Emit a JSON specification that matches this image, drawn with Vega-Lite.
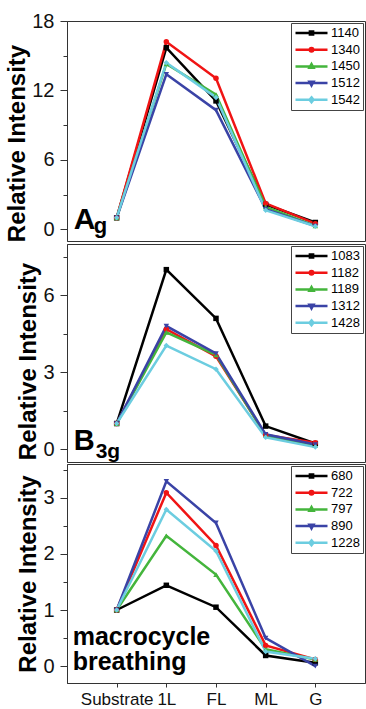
{
  "$schema": "https://vega.github.io/schema/vega-lite/v6.json",
  "padding": {"left": 5, "top": 10, "right": 0, "bottom": 0},
  "spacing": 0,
  "config": {
    "font": "Liberation Sans",
    "view": {"stroke": "#333", "strokeWidth": 1},
    "axis": {"domainColor": "#333", "tickColor": "#333", "labelColor": "#111", "titleColor": "#000", "grid": false, "labelFont": "Liberation Sans", "titleFont": "Liberation Sans"},
    "legend": {"labelFont": "Liberation Sans"}
  },
  "datasets": {
    "d": [
      {"panel": "Ag", "series": 1140, "stage": "Substrate", "value": 1},
      {"panel": "Ag", "series": 1140, "stage": "1L", "value": 15.7},
      {"panel": "Ag", "series": 1140, "stage": "FL", "value": 11.1},
      {"panel": "Ag", "series": 1140, "stage": "ML", "value": 2.15},
      {"panel": "Ag", "series": 1140, "stage": "G", "value": 0.6},
      {"panel": "Ag", "series": 1340, "stage": "Substrate", "value": 1},
      {"panel": "Ag", "series": 1340, "stage": "1L", "value": 16.2},
      {"panel": "Ag", "series": 1340, "stage": "FL", "value": 13.05},
      {"panel": "Ag", "series": 1340, "stage": "ML", "value": 2.25},
      {"panel": "Ag", "series": 1340, "stage": "G", "value": 0.5},
      {"panel": "Ag", "series": 1450, "stage": "Substrate", "value": 1},
      {"panel": "Ag", "series": 1450, "stage": "1L", "value": 14.3},
      {"panel": "Ag", "series": 1450, "stage": "FL", "value": 11.65},
      {"panel": "Ag", "series": 1450, "stage": "ML", "value": 1.95},
      {"panel": "Ag", "series": 1450, "stage": "G", "value": 0.3},
      {"panel": "Ag", "series": 1512, "stage": "Substrate", "value": 1},
      {"panel": "Ag", "series": 1512, "stage": "1L", "value": 13.4},
      {"panel": "Ag", "series": 1512, "stage": "FL", "value": 10.3},
      {"panel": "Ag", "series": 1512, "stage": "ML", "value": 1.75},
      {"panel": "Ag", "series": 1512, "stage": "G", "value": 0.28},
      {"panel": "Ag", "series": 1542, "stage": "Substrate", "value": 1},
      {"panel": "Ag", "series": 1542, "stage": "1L", "value": 14.4},
      {"panel": "Ag", "series": 1542, "stage": "FL", "value": 11.4},
      {"panel": "Ag", "series": 1542, "stage": "ML", "value": 1.65},
      {"panel": "Ag", "series": 1542, "stage": "G", "value": 0.27},
      {"panel": "B3g", "series": 1083, "stage": "Substrate", "value": 1},
      {"panel": "B3g", "series": 1083, "stage": "1L", "value": 7.0},
      {"panel": "B3g", "series": 1083, "stage": "FL", "value": 5.1},
      {"panel": "B3g", "series": 1083, "stage": "ML", "value": 0.9},
      {"panel": "B3g", "series": 1083, "stage": "G", "value": 0.22},
      {"panel": "B3g", "series": 1182, "stage": "Substrate", "value": 1},
      {"panel": "B3g", "series": 1182, "stage": "1L", "value": 4.68},
      {"panel": "B3g", "series": 1182, "stage": "FL", "value": 3.62},
      {"panel": "B3g", "series": 1182, "stage": "ML", "value": 0.55},
      {"panel": "B3g", "series": 1182, "stage": "G", "value": 0.25},
      {"panel": "B3g", "series": 1189, "stage": "Substrate", "value": 1},
      {"panel": "B3g", "series": 1189, "stage": "1L", "value": 4.55},
      {"panel": "B3g", "series": 1189, "stage": "FL", "value": 3.68},
      {"panel": "B3g", "series": 1189, "stage": "ML", "value": 0.53},
      {"panel": "B3g", "series": 1189, "stage": "G", "value": 0.15},
      {"panel": "B3g", "series": 1312, "stage": "Substrate", "value": 1},
      {"panel": "B3g", "series": 1312, "stage": "1L", "value": 4.8},
      {"panel": "B3g", "series": 1312, "stage": "FL", "value": 3.73},
      {"panel": "B3g", "series": 1312, "stage": "ML", "value": 0.58},
      {"panel": "B3g", "series": 1312, "stage": "G", "value": 0.18},
      {"panel": "B3g", "series": 1428, "stage": "Substrate", "value": 1},
      {"panel": "B3g", "series": 1428, "stage": "1L", "value": 4.04},
      {"panel": "B3g", "series": 1428, "stage": "FL", "value": 3.12},
      {"panel": "B3g", "series": 1428, "stage": "ML", "value": 0.46},
      {"panel": "B3g", "series": 1428, "stage": "G", "value": 0.08},
      {"panel": "mb", "series": 680, "stage": "Substrate", "value": 1},
      {"panel": "mb", "series": 680, "stage": "1L", "value": 1.44},
      {"panel": "mb", "series": 680, "stage": "FL", "value": 1.05},
      {"panel": "mb", "series": 680, "stage": "ML", "value": 0.19},
      {"panel": "mb", "series": 680, "stage": "G", "value": 0.06},
      {"panel": "mb", "series": 722, "stage": "Substrate", "value": 1},
      {"panel": "mb", "series": 722, "stage": "1L", "value": 3.09},
      {"panel": "mb", "series": 722, "stage": "FL", "value": 2.15},
      {"panel": "mb", "series": 722, "stage": "ML", "value": 0.37},
      {"panel": "mb", "series": 722, "stage": "G", "value": 0.12},
      {"panel": "mb", "series": 797, "stage": "Substrate", "value": 1},
      {"panel": "mb", "series": 797, "stage": "1L", "value": 2.32},
      {"panel": "mb", "series": 797, "stage": "FL", "value": 1.63},
      {"panel": "mb", "series": 797, "stage": "ML", "value": 0.3},
      {"panel": "mb", "series": 797, "stage": "G", "value": 0.12},
      {"panel": "mb", "series": 890, "stage": "Substrate", "value": 1},
      {"panel": "mb", "series": 890, "stage": "1L", "value": 3.29},
      {"panel": "mb", "series": 890, "stage": "FL", "value": 2.55},
      {"panel": "mb", "series": 890, "stage": "ML", "value": 0.5},
      {"panel": "mb", "series": 890, "stage": "G", "value": 0.0},
      {"panel": "mb", "series": 1228, "stage": "Substrate", "value": 1},
      {"panel": "mb", "series": 1228, "stage": "1L", "value": 2.79},
      {"panel": "mb", "series": 1228, "stage": "FL", "value": 2.05},
      {"panel": "mb", "series": 1228, "stage": "ML", "value": 0.26},
      {"panel": "mb", "series": 1228, "stage": "G", "value": 0.13}
    ],
    "notes": [
      {"panel": "Ag", "part": "main", "label": "A", "stage": "Substrate", "value": 0},
      {"panel": "Ag", "part": "sub", "label": "g", "stage": "Substrate", "value": 0},
      {"panel": "B3g", "part": "main", "label": "B", "stage": "Substrate", "value": 0},
      {"panel": "B3g", "part": "sub", "label": "3g", "stage": "Substrate", "value": 0},
      {"panel": "mb", "part": "line1", "label": "macrocycle", "stage": "Substrate", "value": 0},
      {"panel": "mb", "part": "line2", "label": "breathing", "stage": "Substrate", "value": 0}
    ]
  },
  "vconcat": [
    {
      "width": 298, "height": 220,
      "encoding": {
        "x": {"field": "stage", "type": "nominal", "sort": ["Substrate", "1L", "FL", "ML", "G"], "scale": {"type": "point", "padding": 1}, "axis": null},
        "y": {"field": "value", "type": "quantitative", "scale": {"domain": [-1, 18], "nice": false, "zero": false},
          "axis": {"title": "Relative Intensity", "titleFontSize": 24, "titleFontWeight": "bold", "titlePadding": 2, "titleY": 122, "labelFontSize": 20, "labelPadding": 6,
            "values": [0, 3, 6, 9, 12, 15, 18], "labelExpr": "datum.value % 6 === 0 ? datum.value : ''",
            "tickSize": {"condition": {"test": "datum.value % 6 === 0", "value": 7}, "value": 4}}}
      },
      "layer": [
        {"data": {"name": "d"}, "transform": [{"filter": "datum.panel === 'Ag'"}],
          "mark": {"type": "point", "opacity": 0, "filled": false},
          "encoding": {
            "color": {"field": "series", "type": "nominal", "scale": {"range": ["#000000", "#f01414", "#44b53c", "#3a43a6", "#6ccde0"]},
              "legend": {"title": null, "orient": "top-right", "offset": 2, "padding": 3, "strokeColor": "#444", "fillColor": "white", "labelFontSize": 13, "symbolSize": 1024, "symbolStrokeWidth": 2.5, "symbolOpacity": 1, "clipHeight": 14, "rowPadding": 2.7, "labelOffset": 2}},
            "shape": {"field": "series", "type": "nominal", "scale": {"range": ["M-1,0H1M-0.1,-0.1H0.1V0.1H-0.1Z", "M-1,0H1M0.11,0A0.11,0.11 0 1,1 -0.11,0A0.11,0.11 0 1,1 0.11,0Z", "M-1,0H1M0,-0.15L0.13,0.09H-0.13Z", "M-1,0H1M0,0.15L0.13,-0.09H-0.13Z", "M-1,0H1M0,-0.15L0.12,0L0,0.15L-0.12,0Z"]},
              "legend": {"title": null, "orient": "top-right", "offset": 2, "padding": 3, "strokeColor": "#444", "fillColor": "white", "labelFontSize": 13, "symbolSize": 1024, "symbolStrokeWidth": 2.5, "symbolOpacity": 1, "clipHeight": 14, "rowPadding": 2.7, "labelOffset": 2}}
          }},
        {"data": {"name": "d"}, "transform": [{"filter": "datum.panel === 'Ag'"}],
          "mark": {"type": "line", "strokeWidth": 2.5},
          "encoding": {"stroke": {"field": "series", "type": "nominal", "scale": {"range": ["#000000", "#f01414", "#44b53c", "#3a43a6", "#6ccde0"]}, "legend": null}}},
        {"data": {"name": "d"}, "transform": [{"filter": "datum.panel === 'Ag'"}],
          "mark": {"type": "point", "filled": true, "opacity": 1, "size": 30},
          "encoding": {"fill": {"field": "series", "type": "nominal", "scale": {"range": ["#000000", "#f01414", "#44b53c", "#3a43a6", "#6ccde0"]}, "legend": null},
            "shape": {"condition": [
              {"test": "datum.series === 1140", "value": "square"},
              {"test": "datum.series === 1340", "value": "circle"},
              {"test": "datum.series === 1450", "value": "triangle-up"},
              {"test": "datum.series === 1512", "value": "triangle-down"}], "value": "diamond"}}},
        {"data": {"name": "notes"}, "transform": [{"filter": "datum.panel === 'Ag' && datum.part === 'main'"}],
          "mark": {"type": "text", "fontSize": 30, "fontWeight": "bold", "align": "left", "baseline": "alphabetic", "dx": -43, "dy": 0, "color": "#000"},
          "encoding": {"text": {"field": "label"}}},
        {"data": {"name": "notes"}, "transform": [{"filter": "datum.panel === 'Ag' && datum.part === 'sub'"}],
          "mark": {"type": "text", "fontSize": 22, "fontWeight": "bold", "align": "left", "baseline": "alphabetic", "dx": -23, "dy": 4, "color": "#000"},
          "encoding": {"text": {"field": "label"}}}
      ]
    },
    {
      "width": 298, "height": 218,
      "encoding": {
        "x": {"field": "stage", "type": "nominal", "sort": ["Substrate", "1L", "FL", "ML", "G"], "scale": {"type": "point", "padding": 1}, "axis": null},
        "y": {"field": "value", "type": "quantitative", "scale": {"domain": [-0.5, 8], "nice": false, "zero": false},
          "axis": {"title": "Relative Intensity", "titleFontSize": 24, "titleFontWeight": "bold", "titlePadding": 2, "titleY": 117, "labelFontSize": 20, "labelPadding": 6,
            "values": [0, 1.5, 3, 4.5, 6, 7.5], "labelExpr": "datum.value % 3 === 0 ? datum.value : ''",
            "tickSize": {"condition": {"test": "datum.value % 3 === 0", "value": 7}, "value": 4}}}
      },
      "layer": [
        {"data": {"name": "d"}, "transform": [{"filter": "datum.panel === 'B3g'"}],
          "mark": {"type": "point", "opacity": 0, "filled": false},
          "encoding": {
            "color": {"field": "series", "type": "nominal", "scale": {"range": ["#000000", "#f01414", "#44b53c", "#3a43a6", "#6ccde0"]},
              "legend": {"title": null, "orient": "top-right", "offset": 2, "padding": 3, "strokeColor": "#444", "fillColor": "white", "labelFontSize": 13, "symbolSize": 1024, "symbolStrokeWidth": 2.5, "symbolOpacity": 1, "clipHeight": 14, "rowPadding": 2.7, "labelOffset": 2}},
            "shape": {"field": "series", "type": "nominal", "scale": {"range": ["M-1,0H1M-0.1,-0.1H0.1V0.1H-0.1Z", "M-1,0H1M0.11,0A0.11,0.11 0 1,1 -0.11,0A0.11,0.11 0 1,1 0.11,0Z", "M-1,0H1M0,-0.15L0.13,0.09H-0.13Z", "M-1,0H1M0,0.15L0.13,-0.09H-0.13Z", "M-1,0H1M0,-0.15L0.12,0L0,0.15L-0.12,0Z"]},
              "legend": {"title": null, "orient": "top-right", "offset": 2, "padding": 3, "strokeColor": "#444", "fillColor": "white", "labelFontSize": 13, "symbolSize": 1024, "symbolStrokeWidth": 2.5, "symbolOpacity": 1, "clipHeight": 14, "rowPadding": 2.7, "labelOffset": 2}}
          }},
        {"data": {"name": "d"}, "transform": [{"filter": "datum.panel === 'B3g'"}],
          "mark": {"type": "line", "strokeWidth": 2.5},
          "encoding": {"stroke": {"field": "series", "type": "nominal", "scale": {"range": ["#000000", "#f01414", "#44b53c", "#3a43a6", "#6ccde0"]}, "legend": null}}},
        {"data": {"name": "d"}, "transform": [{"filter": "datum.panel === 'B3g'"}],
          "mark": {"type": "point", "filled": true, "opacity": 1, "size": 30},
          "encoding": {"fill": {"field": "series", "type": "nominal", "scale": {"range": ["#000000", "#f01414", "#44b53c", "#3a43a6", "#6ccde0"]}, "legend": null},
            "shape": {"condition": [
              {"test": "datum.series === 1083", "value": "square"},
              {"test": "datum.series === 1182", "value": "circle"},
              {"test": "datum.series === 1189", "value": "triangle-up"},
              {"test": "datum.series === 1312", "value": "triangle-down"}], "value": "diamond"}}},
        {"data": {"name": "notes"}, "transform": [{"filter": "datum.panel === 'B3g' && datum.part === 'main'"}],
          "mark": {"type": "text", "fontSize": 29, "fontWeight": "bold", "align": "left", "baseline": "alphabetic", "dx": -43, "dy": 1, "color": "#000"},
          "encoding": {"text": {"field": "label"}}},
        {"data": {"name": "notes"}, "transform": [{"filter": "datum.panel === 'B3g' && datum.part === 'sub'"}],
          "mark": {"type": "text", "fontSize": 21, "fontWeight": "bold", "align": "left", "baseline": "alphabetic", "dx": -21, "dy": 9, "color": "#000"},
          "encoding": {"text": {"field": "label"}}}
      ]
    },
    {
      "width": 298, "height": 219,
      "encoding": {
        "x": {"field": "stage", "type": "nominal", "sort": ["Substrate", "1L", "FL", "ML", "G"], "scale": {"type": "point", "padding": 1},
          "axis": {"title": null, "labelAngle": 0, "labelFontSize": 17, "labelPadding": 4, "tickSize": 4}},
        "y": {"field": "value", "type": "quantitative", "scale": {"domain": [-0.3, 3.6], "nice": false, "zero": false},
          "axis": {"title": "Relative Intensity", "titleFontSize": 24, "titleFontWeight": "bold", "titlePadding": 2, "labelFontSize": 20, "labelPadding": 6,
            "values": [0, 0.5, 1, 1.5, 2, 2.5, 3, 3.5], "labelExpr": "datum.value % 1 === 0 ? datum.value : ''",
            "tickSize": {"condition": {"test": "datum.value % 1 === 0", "value": 7}, "value": 4}}}
      },
      "layer": [
        {"data": {"name": "d"}, "transform": [{"filter": "datum.panel === 'mb'"}],
          "mark": {"type": "point", "opacity": 0, "filled": false},
          "encoding": {
            "color": {"field": "series", "type": "nominal", "scale": {"range": ["#000000", "#f01414", "#44b53c", "#3a43a6", "#6ccde0"]},
              "legend": {"title": null, "orient": "top-right", "offset": 2, "padding": 3, "strokeColor": "#444", "fillColor": "white", "labelFontSize": 13, "symbolSize": 1024, "symbolStrokeWidth": 2.5, "symbolOpacity": 1, "clipHeight": 14, "rowPadding": 2.7, "labelOffset": 2}},
            "shape": {"field": "series", "type": "nominal", "scale": {"range": ["M-1,0H1M-0.1,-0.1H0.1V0.1H-0.1Z", "M-1,0H1M0.11,0A0.11,0.11 0 1,1 -0.11,0A0.11,0.11 0 1,1 0.11,0Z", "M-1,0H1M0,-0.15L0.13,0.09H-0.13Z", "M-1,0H1M0,0.15L0.13,-0.09H-0.13Z", "M-1,0H1M0,-0.15L0.12,0L0,0.15L-0.12,0Z"]},
              "legend": {"title": null, "orient": "top-right", "offset": 2, "padding": 3, "strokeColor": "#444", "fillColor": "white", "labelFontSize": 13, "symbolSize": 1024, "symbolStrokeWidth": 2.5, "symbolOpacity": 1, "clipHeight": 14, "rowPadding": 2.7, "labelOffset": 2}}
          }},
        {"data": {"name": "d"}, "transform": [{"filter": "datum.panel === 'mb'"}],
          "mark": {"type": "line", "strokeWidth": 2.5},
          "encoding": {"stroke": {"field": "series", "type": "nominal", "scale": {"range": ["#000000", "#f01414", "#44b53c", "#3a43a6", "#6ccde0"]}, "legend": null}}},
        {"data": {"name": "d"}, "transform": [{"filter": "datum.panel === 'mb'"}],
          "mark": {"type": "point", "filled": true, "opacity": 1, "size": 30},
          "encoding": {"fill": {"field": "series", "type": "nominal", "scale": {"range": ["#000000", "#f01414", "#44b53c", "#3a43a6", "#6ccde0"]}, "legend": null},
            "shape": {"condition": [
              {"test": "datum.series === 680", "value": "square"},
              {"test": "datum.series === 722", "value": "circle"},
              {"test": "datum.series === 797", "value": "triangle-up"},
              {"test": "datum.series === 890", "value": "triangle-down"}], "value": "diamond"}}},
        {"data": {"name": "notes"}, "transform": [{"filter": "datum.panel === 'mb' && datum.part === 'line1'"}],
          "mark": {"type": "text", "fontSize": 25, "fontWeight": "bold", "align": "left", "baseline": "alphabetic", "dx": -44, "dy": -21, "color": "#000"},
          "encoding": {"text": {"field": "label"}}},
        {"data": {"name": "notes"}, "transform": [{"filter": "datum.panel === 'mb' && datum.part === 'line2'"}],
          "mark": {"type": "text", "fontSize": 25, "fontWeight": "bold", "align": "left", "baseline": "alphabetic", "dx": -44, "dy": 4, "color": "#000"},
          "encoding": {"text": {"field": "label"}}}
      ]
    }
  ],
  "resolve": {
    "scale": {"color": "independent", "shape": "independent", "stroke": "independent", "fill": "independent", "y": "independent", "x": "independent"},
    "legend": {"color": "independent", "shape": "independent"}
  }
}
